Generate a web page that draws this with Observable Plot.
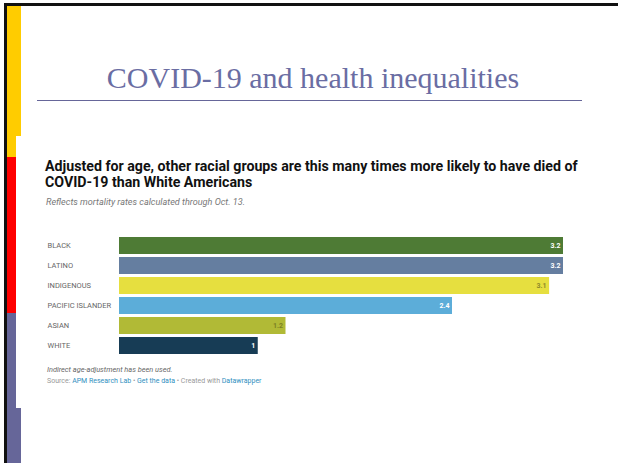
<!DOCTYPE html>
<html>
<head>
<meta charset="utf-8">
<script src="https://cdn.jsdelivr.net/npm/d3@7"></script>
<script src="https://cdn.jsdelivr.net/npm/@observablehq/plot@0.6"></script>
<style>
  html, body { margin: 0; padding: 0; background: #fff; }
  #slide { position: relative; width: 618px; height: 463px; overflow: hidden; background: #fff; font-family: Roboto, sans-serif; }
  .abs { position: absolute; }
  #borderTop { left: 4px; top: 3px; width: 614px; height: 3px; background: #111; }
  #borderLeft { left: 4px; top: 3px; width: 3px; height: 460px; background: #111; }
  #stripY { left: 7px; top: 6px; width: 14px; height: 151px; background: #ffcc00; }
  #stripR { left: 7px; top: 157px; width: 14px; height: 156px; background: #ff0000; }
  #stripB { left: 7px; top: 313px; width: 14px; height: 150px; background: #666699; }
  #stripW { left: 16px; top: 136px; width: 5px; height: 272px; background: #fff; }
  #slideTitle { left: 0; width: 626px; top: 63px; text-align: center; font-family: "Liberation Serif", serif; font-size: 30px; line-height: 30px; color: #6a6da3; white-space: nowrap; }
  #rule { left: 37px; top: 100px; width: 545px; height: 1px; background: #666699; }
  #chartTitle { left: 45px; top: 158px; font-weight: bold; font-size: 14.2px; line-height: 16px; color: #111; white-space: nowrap; }
  #chartSub { left: 46px; top: 198px; font-style: italic; font-size: 9.1px; line-height: 9px; color: #777; white-space: nowrap; }
  #note { left: 47px; top: 366px; font-style: italic; font-size: 7.4px; line-height: 7px; color: #666; white-space: nowrap; }
  #source { left: 47px; top: 378px; font-size: 7px; line-height: 7px; color: #999; white-space: nowrap; }
  #source span.link { color: #2f8fc0; }
  #chart { left: 0; top: 225px; }
</style>
</head>
<body>
<div id="slide">
  <div class="abs" id="borderTop"></div>
  <div class="abs" id="borderLeft"></div>
  <div class="abs" id="stripY"></div>
  <div class="abs" id="stripR"></div>
  <div class="abs" id="stripB"></div>
  <div class="abs" id="stripW"></div>
  <div class="abs" id="slideTitle">COVID-19 and health inequalities</div>
  <div class="abs" id="rule"></div>
  <div class="abs" id="chartTitle">Adjusted for age, other racial groups are this many times more likely to have died of<br>COVID-19 than White Americans</div>
  <div class="abs" id="chartSub">Reflects mortality rates calculated through Oct. 13.</div>
  <div class="abs" id="chart"></div>
  <div class="abs" id="note">Indirect age-adjustment has been used.</div>
  <div class="abs" id="source">Source: <span class="link">APM Research Lab</span> • <span class="link">Get the data</span> • Created with <span class="link">Datawrapper</span></div>
</div>
<script>
const groups = ["BLACK", "LATINO", "INDIGENOUS", "PACIFIC ISLANDER", "ASIAN", "WHITE"];
const values = [3.2, 3.2, 3.1, 2.4, 1.2, 1];
const valueLabels = ["3.2", "3.2", "3.1", "2.4", "1.2", "1"];
const barColors = ["#4e7b35", "#657ea0", "#e6df3f", "#5cadd9", "#b1ba36", "#173c55"];
const labelColors = ["#ffffff", "#ffffff", "#8f8a2a", "#ffffff", "#7c8124", "#ffffff"];

const data = groups.map((g, i) => ({group: g, value: values[i], label: valueLabels[i], color: barColors[i], lc: labelColors[i]}));

const chart = Plot.plot({
  width: 618,
  height: 140,
  marginLeft: 119,
  marginRight: 55,
  marginTop: 10,
  marginBottom: 10,
  style: {fontFamily: "Roboto, sans-serif", background: "transparent"},
  x: {domain: [0, 3.2], axis: null},
  y: {domain: groups, axis: null, paddingInner: 0.15, paddingOuter: 0.075},
  marks: [
    Plot.barX(data, {x: "value", y: "group", fill: d => d.color}),
    Plot.text(data, {x: 0, y: "group", text: "group", textAnchor: "start", dx: -72, fontSize: 7.5, fill: "#666"}),
    Plot.text(data, {x: "value", y: "group", text: "label", textAnchor: "end", dx: -3, fontSize: 7, fontWeight: "bold", fill: d => d.lc})
  ]
});
document.getElementById("chart").appendChild(chart);
</script>
</body>
</html>
